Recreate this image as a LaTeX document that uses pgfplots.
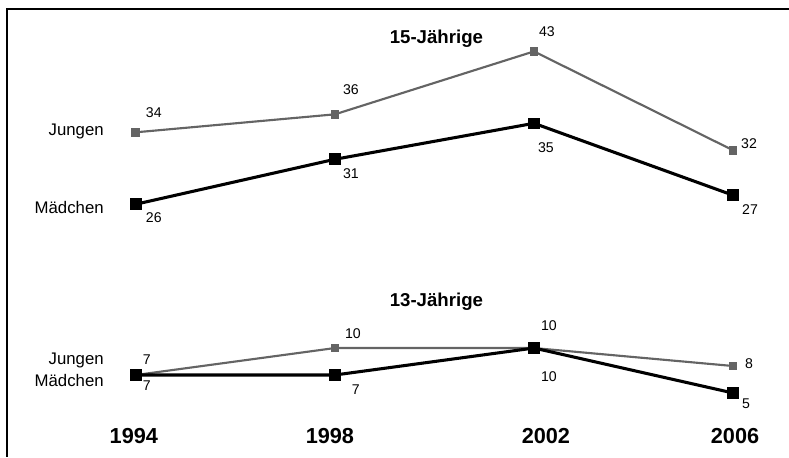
\documentclass[border=0pt]{standalone}
\usepackage{pgfplots}
\pgfplotsset{compat=1.18}
\usepackage{fontspec}
\setmainfont{Liberation Sans}
\definecolor{jgray}{RGB}{100,100,100}
\begin{document}
\begin{tikzpicture}
\begin{axis}[
  width=591.75pt, height=342.75pt, scale only axis,
  xmin=1991.271, xmax=2007.104,
  ymin=-2.056, ymax=48.72,
  axis line style={draw=none},
  tick style={draw=none},
  ytick=\empty,
  xtick={1993.96,1997.9,2002.24,2006.04},
  xticklabels={1994,1998,2002,2006},
  x tick label style={anchor=center, yshift=15pt, font=\fontsize{16.3}{19}\selectfont\bfseries},
  clip=false,
]
% frame (left and top)
\draw[line width=1.5pt, line cap=rect] (axis cs:1991.412,-2.056) -- (axis cs:1991.412,47.72) -- (axis cs:2007.104,47.72);

% 15-Jaehrige
\addplot[jgray, line width=1.6pt, mark=square*, mark size=2.5pt, mark options={fill=jgray, draw=jgray}]
  coordinates {(1994,34) (1998,36) (2002,43) (2006,32)};
\addplot[black, line width=2.3pt, mark=square*, mark size=3.2pt, mark options={fill=black}]
  coordinates {(1994,26) (1998,31) (2002,35) (2006,27)};
% 13-Jaehrige
\addplot[jgray, line width=1.6pt, mark=square*, mark size=2.5pt, mark options={fill=jgray, draw=jgray}]
  coordinates {(1994,7) (1998,10) (2002,10) (2006,8)};
\addplot[black, line width=2.3pt, mark=square*, mark size=3.2pt, mark options={fill=black}]
  coordinates {(1994,7) (1998,7) (2002,10) (2006,5)};

% titles
\node[font=\fontsize{14}{16}\selectfont\bfseries] at (axis cs:2000.04,44.39) {15-Jährige};
\node[font=\fontsize{14}{16}\selectfont\bfseries] at (axis cs:2000.04,15.17) {13-Jährige};

% category labels
\begin{scope}[every node/.style={font=\fontsize{12.6}{15}\selectfont, anchor=east, inner sep=0pt}]
\node at (axis cs:1993.36,34.04) {Jungen};
\node at (axis cs:1993.36,25.6) {Mädchen};
\node at (axis cs:1993.36,8.6) {Jungen};
\node at (axis cs:1993.36,6.4) {Mädchen};
\end{scope}

% value labels
\begin{scope}[every node/.style={font=\fontsize{10.6}{12}\selectfont, anchor=center, inner sep=0pt}]
\node[xshift=13.5pt, yshift=15pt] at (axis cs:1994,34) {34};
\node[xshift=12pt, yshift=18.75pt] at (axis cs:1998,36) {36};
\node[xshift=9.75pt, yshift=15pt] at (axis cs:2002,43) {43};
\node[xshift=12pt, yshift=5.25pt] at (axis cs:2006,32) {32};
\node[xshift=13.5pt, yshift=-9.75pt] at (axis cs:1994,26) {26};
\node[xshift=12pt, yshift=-10.5pt] at (axis cs:1998,31) {31};
\node[xshift=9pt, yshift=-18pt] at (axis cs:2002,35) {35};
\node[xshift=12.75pt, yshift=-10.5pt] at (axis cs:2006,27) {27};
\node[xshift=8.25pt, yshift=11.25pt] at (axis cs:1994,7) {7};
\node[xshift=13.5pt, yshift=10.5pt] at (axis cs:1998,10) {10};
\node[xshift=11.25pt, yshift=16.5pt] at (axis cs:2002,10) {10};
\node[xshift=12pt, yshift=1.5pt] at (axis cs:2006,8) {8};
\node[xshift=8.25pt, yshift=-8.25pt] at (axis cs:1994,7) {7};
\node[xshift=15.75pt, yshift=-11.25pt] at (axis cs:1998,7) {7};
\node[xshift=11.25pt, yshift=-21.75pt] at (axis cs:2002,10) {10};
\node[xshift=9.75pt, yshift=-8.25pt] at (axis cs:2006,5) {5};
\end{scope}
\path (rel axis cs:0,0) rectangle (rel axis cs:1,1);
\end{axis}
\end{tikzpicture}
\end{document}
